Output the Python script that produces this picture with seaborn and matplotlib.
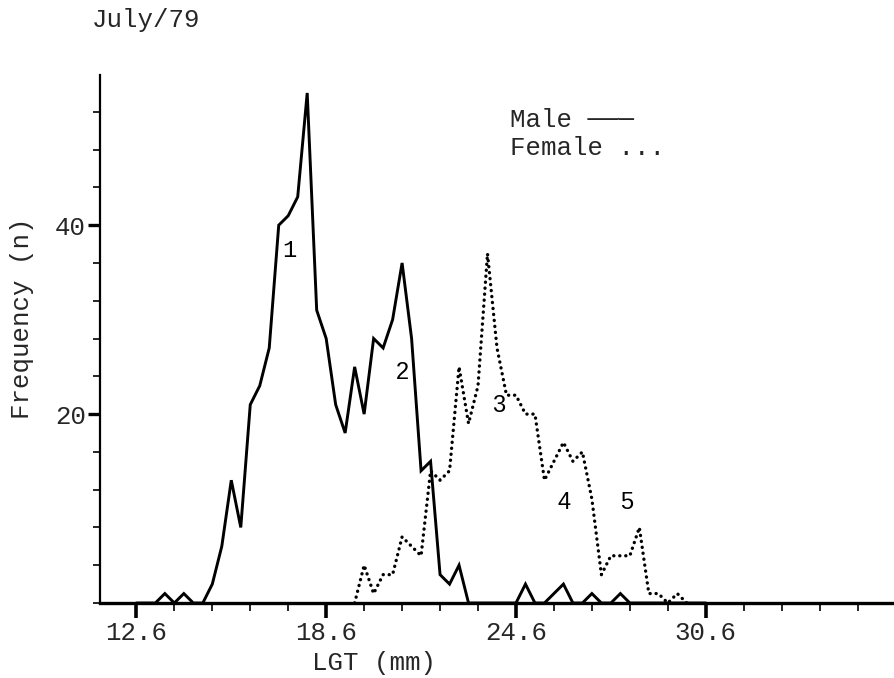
import matplotlib
matplotlib.use("Agg")
import matplotlib.pyplot as plt
import pandas as pd
import seaborn as sns
from matplotlib.ticker import FixedLocator, MultipleLocator

# Length-frequency of males and females, July 1979 (0.3 mm length classes)
male_lgt = [12.6, 12.9, 13.2, 13.5, 13.8, 14.1, 14.4, 14.7, 15.0, 15.3,
            15.6, 15.9, 16.2, 16.5, 16.8, 17.1, 17.4, 17.7, 18.0, 18.3,
            18.6, 18.9, 19.2, 19.5, 19.8, 20.1, 20.4, 20.7, 21.0, 21.3,
            21.6, 21.9, 22.2, 22.5, 22.8, 23.1, 23.4, 23.7, 24.0, 24.3,
            24.6, 24.9, 25.2, 25.5, 25.8, 26.1, 26.4, 26.7, 27.0, 27.3,
            27.6, 27.9, 28.2, 28.5, 28.8, 29.1, 29.4, 29.7, 30.0, 30.3,
            30.6]
male_n = [0, 0, 0, 1, 0, 1, 0, 0, 2, 6,
          13, 8, 21, 23, 27, 40, 41, 43, 54, 31,
          28, 21, 18, 25, 20, 28, 27, 30, 36, 28,
          14, 15, 3, 2, 4, 0, 0, 0, 0, 0,
          0, 2, 0, 0, 1, 2, 0, 0, 1, 0,
          0, 1, 0, 0, 0, 0, 0, 0, 0, 0,
          0]

female_lgt = [19.5, 19.8, 20.1, 20.4, 20.7, 21.0, 21.3, 21.6, 21.9, 22.2,
              22.5, 22.8, 23.1, 23.4, 23.7, 24.0, 24.3, 24.6, 24.9, 25.2,
              25.5, 25.8, 26.1, 26.4, 26.7, 27.0, 27.3, 27.6, 27.9, 28.2,
              28.5, 28.8, 29.1, 29.4, 29.7, 30.0]
female_n = [0, 4, 1, 3, 3, 7, 6, 5, 14, 13,
            14, 25, 19, 23, 37, 27, 22, 22, 20, 20,
            13, 15, 17, 15, 16, 11, 3, 5, 5, 5,
            8, 1, 1, 0, 1, 0]

x_major = [12.6, 18.6, 24.6, 30.6]
x_major_labels = ["12.6", "18.6", "24.6", "30.6"]
y_major = [20, 40]
y_major_labels = ["20", "40"]

# Cohort numbers written beside the modes
mode_labels = ["1", "2", "3", "4", "5"]
mode_x = [17.45, 21.01, 24.06, 26.11, 28.11]
mode_y = [37.3, 24.3, 20.9, 10.6, 10.6]

male = pd.DataFrame({"LGT": male_lgt, "n": male_n})
female = pd.DataFrame({"LGT": female_lgt, "n": female_n})

sns.set_style("ticks")
plt.rcParams["font.family"] = ["Liberation Mono", "DejaVu Sans Mono"]
plt.rcParams["axes.unicode_minus"] = False

W, H = 894, 678
fig = plt.figure(figsize=(W / 100, H / 100), dpi=100)
fig.patch.set_facecolor("white")

# axes box in pixels: left 100, bottom baseline at y=603, top at y=75
ax = fig.add_axes([100 / W, (H - 603) / H, (W - 100) / W, (603 - 75) / H])
ax.set_facecolor("white")

sns.lineplot(data=male, x="LGT", y="n", ax=ax, color="black",
             linewidth=2.1, solid_joinstyle="miter", zorder=3)
sns.lineplot(data=female, x="LGT", y="n", ax=ax, color="black",
             linewidth=2.4, linestyle=(0, (0.05, 1.75)),
             dash_capstyle="round", zorder=2)

ax.set_xlim(11.45, 36.55)
ax.set_ylim(0, 55.9)

for side in ("top", "right"):
    ax.spines[side].set_visible(False)
ax.spines["bottom"].set_linewidth(2.4)
ax.spines["left"].set_linewidth(1.6)
ax.spines["bottom"].set_color("black")
ax.spines["left"].set_color("black")

ax.xaxis.set_major_locator(FixedLocator(x_major))
ax.set_xticklabels(x_major_labels)
ax.xaxis.set_minor_locator(MultipleLocator(1.2, offset=0.6))
ax.yaxis.set_major_locator(FixedLocator(y_major))
ax.set_yticklabels(y_major_labels)
ax.yaxis.set_minor_locator(MultipleLocator(4))

ax.tick_params(axis="x", which="major", direction="out", length=11,
               width=2.6, color="black", labelsize=18.5, pad=2)
ax.tick_params(axis="x", which="minor", direction="out", length=6,
               width=1.2, color="black")
ax.tick_params(axis="y", which="major", direction="out", length=9,
               width=2.4, color="black", labelsize=18.5, pad=1)
ax.tick_params(axis="y", which="minor", direction="out", length=5,
               width=1.2, color="black")

ax.set_xlabel("LGT (mm)", fontsize=18.5, va="center")
ax.xaxis.set_label_coords(0.3457, -0.1136)
ax.set_ylabel("Frequency (n)", fontsize=18.5, va="center", ha="center")
ax.yaxis.set_label_coords(-0.098, 0.54)

for lab, xv, yv in zip(mode_labels, mode_x, mode_y):
    fam = ["Liberation Mono"] if lab == "1" else ["Liberation Sans"]
    ax.text(xv, yv, lab, fontsize=17, ha="center", va="center",
            family=fam, color="black")

ax.text(0.5164, 0.9148, "Male \u2500\u2500\u2500", transform=ax.transAxes,
        fontsize=18.5, ha="left", va="center",
        family=["Liberation Mono", "DejaVu Sans Mono"])
ax.text(0.5164, 0.8617, "Female ...", transform=ax.transAxes,
        fontsize=18.5, ha="left", va="center")

fig.text(92 / W, 1 - 20 / H, "July/79", fontsize=18.5, ha="left", va="center")

fig.savefig("out.png", dpi=100, facecolor="white")
